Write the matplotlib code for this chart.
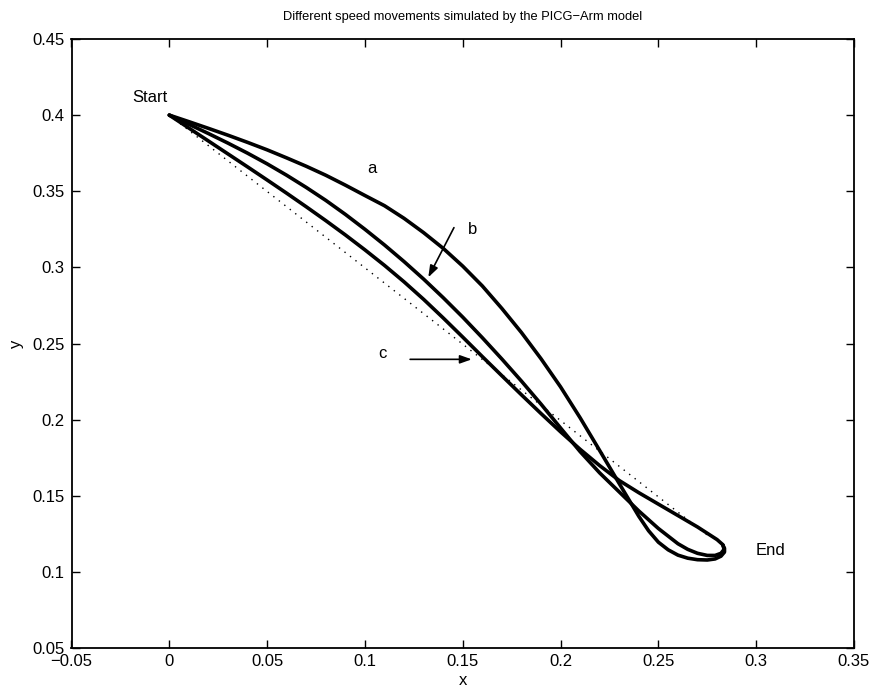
import matplotlib
matplotlib.use("Agg")
import matplotlib.pyplot as plt

# ---- data ----
a_x = [0.000, 0.010, 0.020, 0.030, 0.040, 0.050, 0.060, 0.070, 0.080, 0.090,
       0.100, 0.110, 0.120, 0.130, 0.140, 0.150, 0.160, 0.170, 0.180, 0.190,
       0.200, 0.210, 0.220, 0.230, 0.240, 0.245, 0.250, 0.255, 0.260, 0.265,
       0.270, 0.275, 0.279, 0.282, 0.2838, 0.2838, 0.2830]
a_y = [0.4000, 0.3957, 0.3913, 0.3868, 0.3821, 0.3772, 0.3719, 0.3664, 0.3605, 0.3540,
       0.3472, 0.3405, 0.3322, 0.3228, 0.3125, 0.3008, 0.2878, 0.2730, 0.2572, 0.2400,
       0.2215, 0.2012, 0.1797, 0.1580, 0.1365, 0.1270, 0.1195, 0.1145, 0.1110, 0.1090,
       0.1080, 0.1078, 0.1085, 0.1103, 0.1130, 0.1155, 0.1175]

b_x = [0.000, 0.010, 0.020, 0.030, 0.040, 0.050, 0.060, 0.070, 0.080, 0.090,
       0.100, 0.110, 0.120, 0.130, 0.140, 0.150, 0.160, 0.170, 0.180, 0.190,
       0.200, 0.210, 0.220, 0.230, 0.240, 0.250, 0.260, 0.265, 0.270, 0.275,
       0.279, 0.282, 0.2836, 0.2830]
b_y = [0.4000, 0.3940, 0.3879, 0.3816, 0.3750, 0.3680, 0.3605, 0.3525, 0.3440, 0.3348,
       0.3250, 0.3147, 0.3038, 0.2923, 0.2801, 0.2673, 0.2538, 0.2398, 0.2253, 0.2102,
       0.1945, 0.1790, 0.1650, 0.1525, 0.1400, 0.1285, 0.1185, 0.1148, 0.1122, 0.1108,
       0.1108, 0.1122, 0.1148, 0.1175]

c_x = [0.000, 0.010, 0.020, 0.030, 0.040, 0.050, 0.060, 0.070, 0.080, 0.090,
       0.100, 0.110, 0.120, 0.130, 0.140, 0.150, 0.160, 0.170, 0.180, 0.190,
       0.200, 0.210, 0.220, 0.230, 0.240, 0.250, 0.260, 0.270, 0.280, 0.2830]
c_y = [0.4000, 0.3915, 0.3830, 0.3745, 0.3660, 0.3574, 0.3487, 0.3398, 0.3307, 0.3213,
       0.3115, 0.3013, 0.2905, 0.2790, 0.2668, 0.2542, 0.2414, 0.2288, 0.2163, 0.2040,
       0.1920, 0.1805, 0.1698, 0.1600, 0.1520, 0.1445, 0.1370, 0.1295, 0.1212, 0.1178]

straight_x = [0.000, 0.2750]
straight_y = [0.4000, 0.1242]

xticks = [-0.05, 0, 0.05, 0.1, 0.15, 0.2, 0.25, 0.3, 0.35]
xtick_labels = ["\u22120.05", "0", "0.05", "0.1", "0.15", "0.2", "0.25", "0.3", "0.35"]
yticks = [0.05, 0.1, 0.15, 0.2, 0.25, 0.3, 0.35, 0.4, 0.45]
ytick_labels = ["0.05", "0.1", "0.15", "0.2", "0.25", "0.3", "0.35", "0.4", "0.45"]

title = "Different speed movements simulated by the PICG\u2212Arm model"

plt.rcParams['font.family'] = ['Liberation Sans', 'DejaVu Sans']

fig = plt.figure(figsize=(8.74, 6.92), dpi=100)
ax = fig.add_axes([71.5 / 874, 1 - 648 / 692, 782.5 / 874, 609 / 692])

lw = 2.6
for xs, ys in ((a_x, a_y), (b_x, b_y), (c_x, c_y)):
    ax.plot(xs, ys, color='black', lw=lw, solid_joinstyle='round', solid_capstyle='round')
ax.plot(straight_x, straight_y, color='black', lw=1.0, linestyle=(0, (1, 4)))

ax.set_xlim(-0.05, 0.35)
ax.set_ylim(0.05, 0.45)
ax.set_xticks(xticks)
ax.set_xticklabels(xtick_labels)
ax.set_yticks(yticks)
ax.set_yticklabels(ytick_labels)
ax.tick_params(direction='in', top=True, right=True, length=6, width=1,
               labelsize=12)
ax.tick_params(axis='y', pad=5)
ax.tick_params(axis='x', pad=4)
for s in ax.spines.values():
    s.set_linewidth(1.3)

ax.set_xlabel("x", fontsize=12, labelpad=3)
ax.set_ylabel("y", fontsize=12, labelpad=6)
ax.set_title(title, fontsize=9.3, pad=14)

fs = 12
ax.text(-0.0099, 0.4115, "Start", fontsize=fs, ha='center', va='center')
ax.text(0.1035, 0.3651, "a", fontsize=fs, ha='center', va='center')
ax.text(0.1551, 0.3250, "b", fontsize=fs, ha='center', va='center')
ax.text(0.1091, 0.2436, "c", fontsize=fs, ha='center', va='center')
ax.text(0.3071, 0.1138, "End", fontsize=fs, ha='center', va='center')

arrow = dict(arrowstyle='-|>,head_length=0.7,head_width=0.25', color='black', lw=1.2,
             shrinkA=0, shrinkB=0)
ax.annotate("", xy=(0.1324, 0.2935), xytext=(0.1455, 0.3261), arrowprops=arrow)
ax.annotate("", xy=(0.1546, 0.2396), xytext=(0.1231, 0.2396), arrowprops=arrow)

fig.savefig("out.png", dpi=100)
